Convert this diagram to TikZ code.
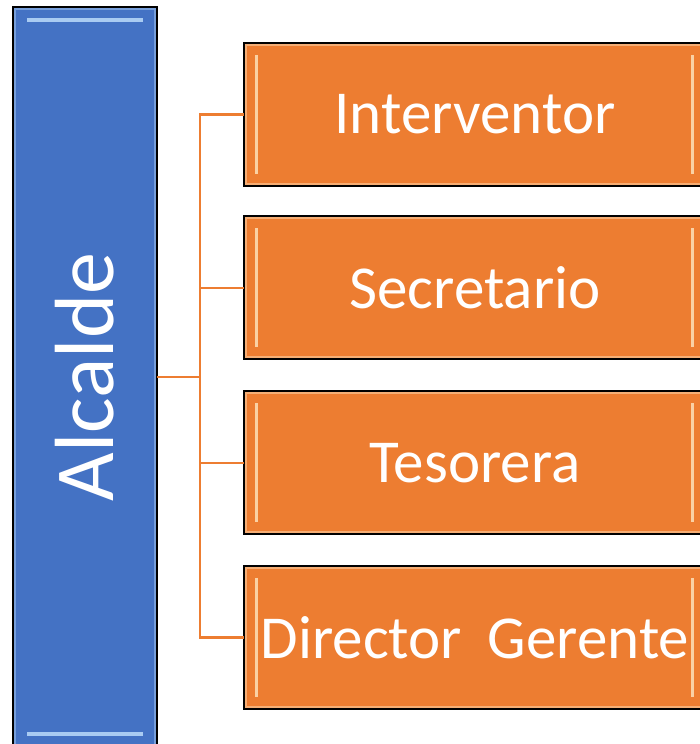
\documentclass[tikz,border=0pt]{standalone}
\usepackage{fontspec}
\setmainfont{Carlito}
\usepackage{graphicx}
\usepackage{xcolor}
\usepackage{tikz}
\usetikzlibrary{arrows}
\definecolor{alcblue}{HTML}{4472C4}
\definecolor{carrot}{HTML}{ED7D31}
\definecolor{bluehi}{HTML}{A9CBF2}
\definecolor{orangehi}{HTML}{FCE0B8}
\tikzset{
	bluebox/.style={draw=black,line width=2pt,fill=alcblue,inner sep=0pt,outer sep=0pt,
		minimum width=144pt,minimum height=740pt,text=white,
		path picture={
			\draw[bluehi!50!alcblue,line width=6pt] (path picture bounding box.north west) rectangle (path picture bounding box.south east);
			\draw[bluehi,line width=4pt] ([xshift=14pt,yshift=-13pt]path picture bounding box.north west) -- ([xshift=-14pt,yshift=-13pt]path picture bounding box.north east);
			\draw[bluehi,line width=4pt] ([xshift=14pt,yshift=13pt]path picture bounding box.south west) -- ([xshift=-14pt,yshift=13pt]path picture bounding box.south east);
		}},
	postbox/.style={draw=black,line width=2pt,fill=carrot,inner sep=0pt,outer sep=0pt,
		minimum width=462pt,minimum height=143pt,text=white,
		path picture={
			\draw[orangehi!50!carrot,line width=6pt] (path picture bounding box.north west) rectangle (path picture bounding box.south east);
			\draw[orangehi!85!carrot,line width=3pt] ([xshift=12pt,yshift=-12pt]path picture bounding box.north west) -- ([xshift=12pt,yshift=12pt]path picture bounding box.south west);
			\draw[orangehi!85!carrot,line width=3pt] ([xshift=-14pt,yshift=-12pt]path picture bounding box.north east) -- ([xshift=-14pt,yshift=12pt]path picture bounding box.south east);
		}},
	link/.style={draw=carrot,line width=2.5pt}
}
\begin{document}
\begin{tikzpicture}[x=1pt,y=1pt]
	\useasboundingbox (0,0) rectangle (700,744);
	\begin{scope}
	\clip (0,0) rectangle (700,744);
	\node[bluebox] (alc) at (85,367) {\fontsize{84}{84}\selectfont\rotatebox{90}{Alcalde}};
	\tikzstyle{every node}=[postbox,font=\fontsize{61}{61}\selectfont];
	\node (p1) at (475,629.5) {Interventor};
	\node (p2) at (475,456) {Secretario};
	\node (p3) at (475,281) {Tesorera};
	\node (p4) at (475,106.5) {Director\hspace{12pt} Gerente};
	\coordinate (bus) at (200,367);
	\draw[link] (alc.east)--(bus);
	\draw[link] (p1.west)-|(bus) (p2.west)-|(bus) (p3.west)-|(bus) (p4.west)-|(bus);
	\end{scope}
\end{tikzpicture}
\end{document}
